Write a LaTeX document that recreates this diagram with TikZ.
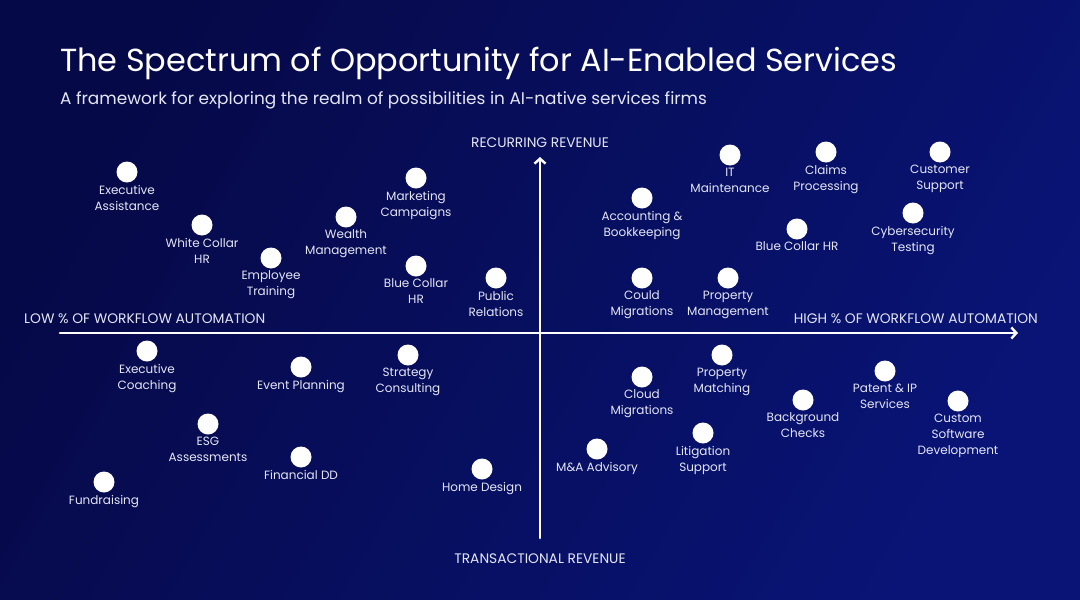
\documentclass[tikz,border=0pt]{standalone}
\usepackage{fontspec}
\setmainfont{Poppins}
\usetikzlibrary{arrows.meta}
\definecolor{bgA}{HTML}{07083A}
\definecolor{bgB}{HTML}{0B1A86}
\definecolor{bgC}{HTML}{060C5E}
\definecolor{lbl}{HTML}{E4E6F4}
\tikzset{
  dot/.style={circle,fill=white,minimum size=21pt,inner sep=0pt},
  lab/.style={anchor=north,align=center,inner sep=0pt,text=lbl,font=\fontsize{12}{16}\selectfont},
  axislab/.style={inner sep=0pt,text=lbl,font=\fontsize{13.8}{16}\selectfont},
  axisline/.style={white,line width=2.6pt,line cap=round,-{Straight Barb[length=5pt,width=11pt,line width=2.4pt]}},
}
\newcommand{\spitem}[3]{%
  \node[dot] (#1) at (#2) {};
  \node[lab] (#1l) at ([yshift=-2pt]#1.south) {#3};}
\begin{document}
\begin{tikzpicture}[x=1pt,y=-1pt]
\useasboundingbox (0,0) rectangle (1080,600);
\shade[shading=axis,left color=bgA,right color=bgB,shading angle=60] (0,0) rectangle (1080,600);
\fill[bgC,opacity=0.4] (0,0) rectangle (1080,600);
% title
\node[anchor=west,inner sep=0pt,text=white,font=\fontsize{31.9}{36}\selectfont] (title) at (60,63.5) {The Spectrum of Opportunity for AI-Enabled Services};
\node[anchor=west,inner sep=0pt,text=lbl,font=\fontsize{16.9}{20}\selectfont] (sub) at (60,100) {A framework for exploring the realm of possibilities in AI-native services firms};
% axes
\coordinate (xl) at (60,333);
\coordinate (xr) at (1018,333);
\coordinate (yb) at (540,538);
\coordinate (yt) at (540,157);
\draw[axisline] (xl) -- (xr);
\draw[axisline] (yb) -- (yt);
\node[axislab] (rec) at (540,143) {RECURRING REVENUE};
\node[axislab] (tra) at (540,559) {TRANSACTIONAL REVENUE};
\node[axislab,anchor=west] (low) at (24,319) {LOW \% OF WORKFLOW AUTOMATION};
\node[axislab,anchor=east] (high) at (1038,319) {HIGH \% OF WORKFLOW AUTOMATION};
% items
\spitem{ea}{127,172}{Executive\\Assistance}
\spitem{wchr}{202,225}{White Collar\\HR}
\spitem{et}{271,258}{Employee\\Training}
\spitem{wm}{346,217}{Wealth\\Management}
\spitem{mc}{416,178}{Marketing\\Campaigns}
\spitem{bchrl}{416,266}{Blue Collar\\HR}
\spitem{pr}{496,278}{Public\\Relations}
\spitem{ab}{642,198}{Accounting \&\\Bookkeeping}
\spitem{itm}{730,155}{IT\\Maintenance}
\spitem{cp}{826,152}{Claims\\Processing}
\spitem{cs}{940,152}{Customer\\Support}
\spitem{bchrr}{797,229}{Blue Collar HR}
\spitem{cyb}{913,213}{Cybersecurity\\Testing}
\spitem{cm}{642,278}{Could\\Migrations}
\spitem{pm}{728,278}{Property\\Management}
\spitem{ec}{147,351}{Executive\\Coaching}
\spitem{ep}{301,367}{Event Planning}
\spitem{sc}{408,355}{Strategy\\Consulting}
\spitem{esg}{208,424}{ESG\\Assessments}
\spitem{fdd}{301,457}{Financial DD}
\spitem{fr}{104,482}{Fundraising}
\spitem{hd}{482,469}{Home Design}
\spitem{clm}{642,377}{Cloud\\Migrations}
\spitem{pmt}{722,355}{Property\\Matching}
\spitem{ma}{597,449}{M\&A Advisory}
\spitem{ls}{703,433}{Litigation\\Support}
\spitem{bc}{803,400}{Background\\Checks}
\spitem{pip}{885,371}{Patent \& IP\\Services}
\spitem{csd}{958,401}{Custom\\Software\\Development}
\end{tikzpicture}
\end{document}
